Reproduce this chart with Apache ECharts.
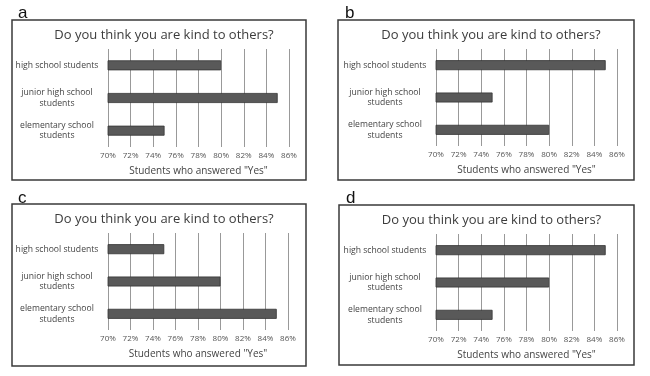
<!DOCTYPE html>
<html><head><meta charset="utf-8">
<script src="https://cdn.jsdelivr.net/npm/echarts@6/dist/echarts.min.js"></script>
<style>html,body{margin:0;padding:0;background:#fff}#c{width:650px;height:376px}</style>
</head><body><div id="c"></div>
<script>
const categories = ['high school students', 'junior high school\nstudents', 'elementary school\nstudents'];
const panelLabels = ['a', 'b', 'c', 'd'];
const valuesA = [80, 85, 75];
const valuesB = [85, 75, 80];
const valuesC = [75, 80, 85];
const valuesD = [85, 80, 75];
const chartTitle = 'Do you think you are kind to others?';
const axisTitle = 'Students who answered "Yes"';
const xMin = 70, xMax = 86, xStep = 2;

const panelData = [valuesA, valuesB, valuesC, valuesD];
const grids = [
  {left: 108, width: 181, top: 49, height: 98},
  {left: 436, width: 181, top: 49, height: 97},
  {left: 108, width: 180, top: 233, height: 97},
  {left: 436, width: 181, top: 234, height: 97}
];
const boxes = [
  {x: 12, y: 20, w: 294, h: 160},
  {x: 338, y: 20, w: 296, h: 160},
  {x: 12, y: 204, w: 294, h: 162},
  {x: 339, y: 205, w: 295, h: 160}
];
const labelPos = [[13, 0], [340, 0], [13, 185], [341, 185]];
const font = 'Open Sans, sans-serif';

const option = {
  backgroundColor: '#fff',
  animation: false,
  title: [],
  grid: [], xAxis: [], yAxis: [], series: [],
  graphic: []
};
panelData.forEach((vals, i) => {
  const g = grids[i], b = boxes[i];
  option.graphic.push({type: 'rect', shape: {x: b.x, y: b.y, width: b.w, height: b.h},
    style: {fill: 'none', stroke: '#3a3a3a', lineWidth: 1.5}, z: -1});
  option.title.push({text: panelLabels[i], left: labelPos[i][0], top: labelPos[i][1],
    textStyle: {fontFamily: 'Liberation Sans, Arial, sans-serif', fontSize: 17, fontWeight: 'normal', color: '#111'}});
  option.title.push({text: chartTitle, left: b.x + b.w / 2, top: b.y + 4, textAlign: 'center',
    textStyle: {fontFamily: font, fontSize: 13, fontWeight: 'normal', color: '#3c3c3c'}});
  option.grid.push({left: g.left, width: g.width, top: g.top, height: g.height, containLabel: false});
  option.xAxis.push({type: 'value', gridIndex: i, min: xMin, max: xMax, interval: xStep,
    axisLine: {show: false}, axisTick: {show: false},
    splitLine: {show: true, lineStyle: {color: '#999', width: 1}},
    axisLabel: {formatter: v => v + '%', fontFamily: font, fontSize: 8, color: '#555', margin: 5},
    name: axisTitle, nameLocation: 'middle', nameGap: 19,
    nameTextStyle: {fontFamily: font, fontSize: 10, color: '#444'}});
  option.yAxis.push({type: 'category', gridIndex: i, data: categories, inverse: true,
    axisLine: {show: false}, axisTick: {show: false}, splitLine: {show: false},
    axisLabel: {margin: 9, formatter: v => v.split('\n').map(s => '{c|' + s + '}').join('\n'),
      rich: {c: {width: 84, align: 'center', fontFamily: font, fontSize: 8.6, color: '#444', lineHeight: 10.5}}}});
  option.series.push({type: 'bar', xAxisIndex: i, yAxisIndex: i, data: vals, barWidth: 10,
    itemStyle: {color: '#595959', borderColor: '#333', borderWidth: 0.8}});
});
const chart = echarts.init(document.getElementById('c'), null, {renderer: 'canvas'});
chart.setOption(option);
</script></body></html>
